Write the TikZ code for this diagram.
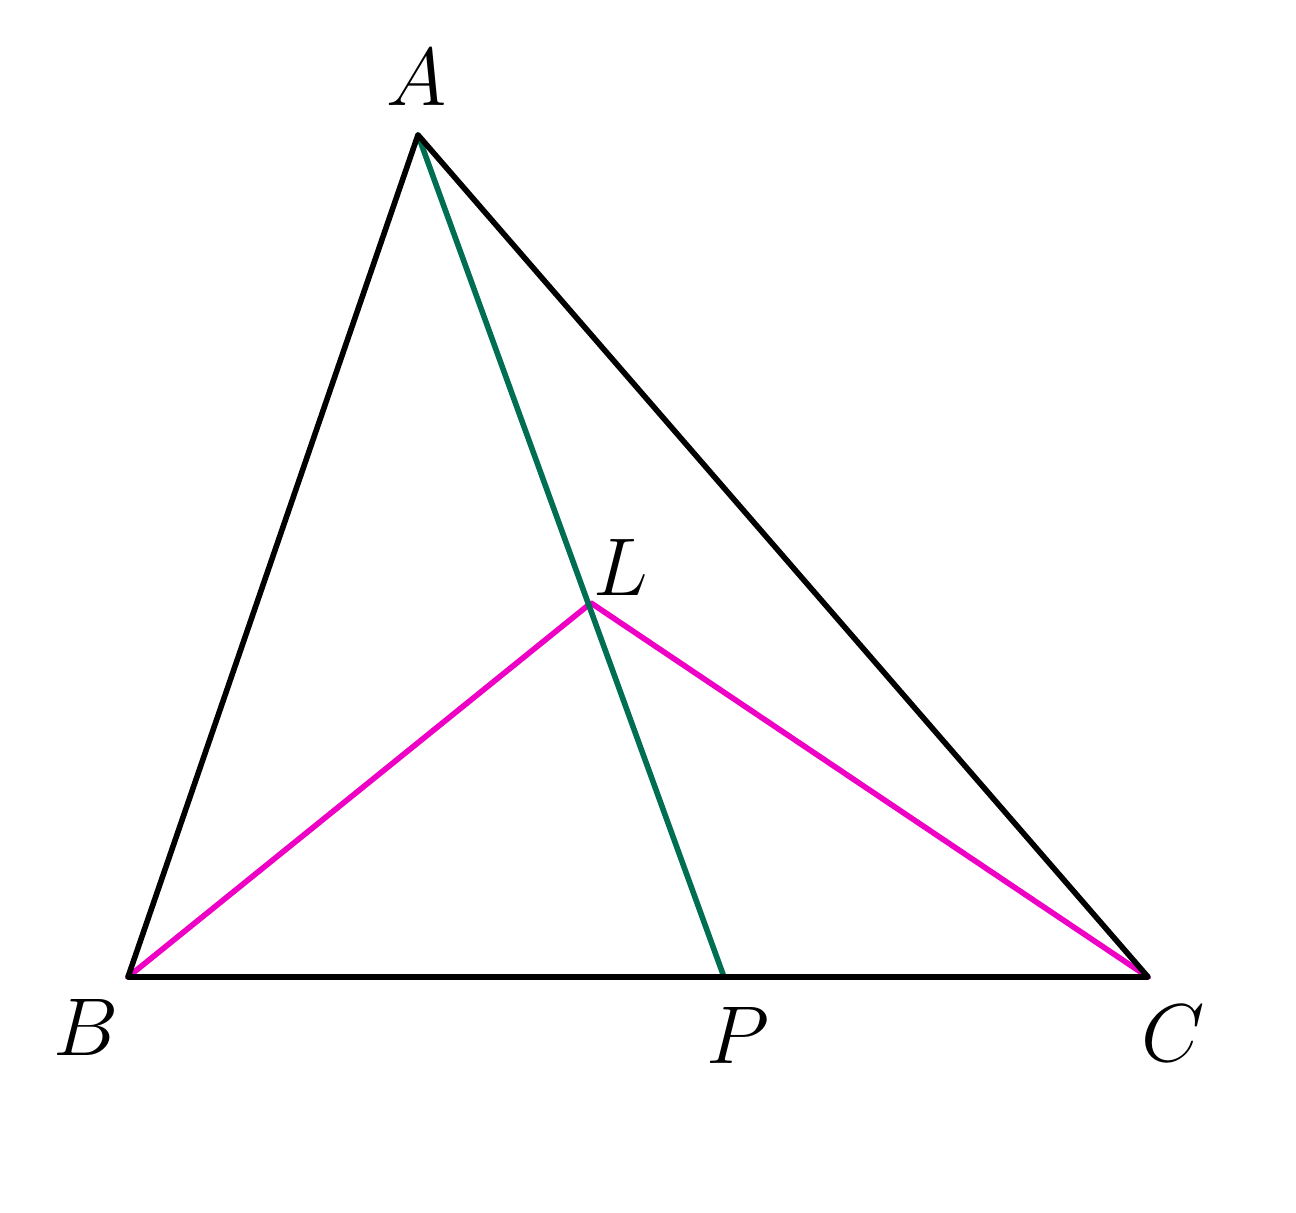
\documentclass[tikz,border=0pt]{standalone}
\usepackage{fix-cm}
\definecolor{dgreen}{RGB}{0,110,82}
\definecolor{mag}{RGB}{238,0,196}
\begin{document}
\begin{tikzpicture}[x=0.5pt,y=-0.5pt,
  seg/.style={line width=2.8pt,line cap=round,line join=round},
  lbl/.style={inner sep=0pt,font=\fontsize{41}{45}\selectfont}]
\useasboundingbox (0,0) rectangle (1296,1213);
\coordinate (A) at (418,135);
\coordinate (B) at (128,977);
\coordinate (C) at (1148,977);
\coordinate (P) at (724,977);
\coordinate (L) at (591,603);
\draw[seg,mag] (B) -- (L) -- (C);
\draw[seg,dgreen] (A) -- (P);
\draw[seg,black] (A) -- (B) -- (C) -- cycle;
\node[lbl] (lA) at (417,77) {$A$};
\node[lbl] (lL) at (621,567) {$L$};
\node[lbl] (lB) at (86,1027) {$B$};
\node[lbl] (lP) at (738,1035) {$P$};
\node[lbl] (lC) at (1173,1033) {$C$};
\end{tikzpicture}
\end{document}
